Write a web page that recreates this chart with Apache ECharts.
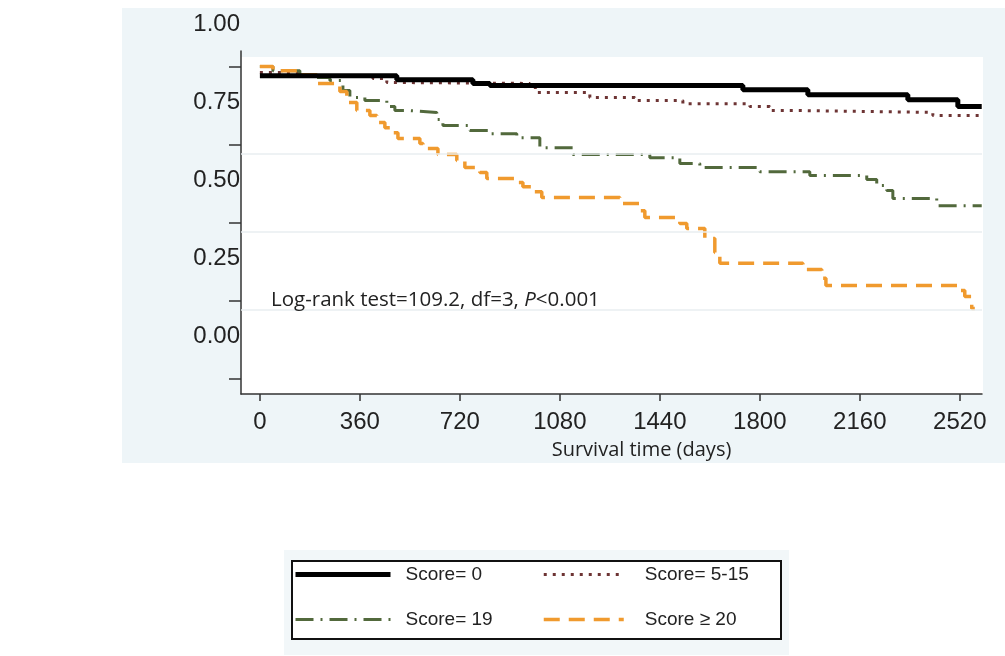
<!DOCTYPE html>
<html>
<head>
<meta charset="utf-8">
<script src="https://cdn.jsdelivr.net/npm/echarts@6/dist/echarts.min.js"></script>
<style>
html, body { margin: 0; padding: 0; background: #fff; }
#main { width: 1005px; height: 656px; }
</style>
</head>
<body>
<div id="main"></div>
<script>
// Kaplan-Meier steps: day where the step starts, survival from then on
var score0Days = [0, 493, 767, 828, 1739, 1973, 2333, 2513, 2599];
var score0Surv = [0.971, 0.958, 0.946, 0.939, 0.926, 0.910, 0.894, 0.872, 0.872];

var score515Days = [0, 144, 407, 457, 479, 972, 997, 1188, 1350, 1523, 1764, 1836, 1944, 2423, 2599];
var score515Surv = [0.981, 0.971, 0.962, 0.949, 0.946, 0.933, 0.917, 0.901, 0.891, 0.881, 0.872, 0.859, 0.853, 0.843, 0.843];

var score19Days = [0, 47, 144, 205, 252, 299, 324, 378, 457, 486, 540, 637, 659, 756, 828, 925, 1008, 1127, 1404, 1512, 1584, 1800, 1980, 2185, 2221, 2257, 2279, 2437, 2599];
var score19Surv = [1.0, 0.987, 0.974, 0.965, 0.955, 0.923, 0.901, 0.891, 0.872, 0.859, 0.853, 0.830, 0.811, 0.795, 0.785, 0.772, 0.740, 0.718, 0.708, 0.689, 0.676, 0.663, 0.651, 0.638, 0.619, 0.603, 0.577, 0.554, 0.554];

var score20Days = [0, 47, 144, 205, 288, 313, 349, 396, 421, 450, 475, 497, 576, 587, 641, 709, 738, 792, 817, 918, 947, 990, 1015, 1296, 1368, 1386, 1512, 1537, 1602, 1638, 1656, 1955, 2023, 2038, 2520, 2538, 2563, 2574];
var score20Surv = [1.0, 0.987, 0.974, 0.946, 0.920, 0.885, 0.859, 0.843, 0.821, 0.804, 0.788, 0.769, 0.753, 0.737, 0.718, 0.699, 0.676, 0.660, 0.641, 0.628, 0.615, 0.599, 0.580, 0.561, 0.538, 0.516, 0.497, 0.481, 0.449, 0.404, 0.369, 0.349, 0.321, 0.298, 0.282, 0.263, 0.224, 0.224];

var xTicks = [0, 360, 720, 1080, 1440, 1800, 2160, 2520];
var yTicks = [0, 0.25, 0.5, 0.75, 1];
var faintLines = [0.7216, 0.4715, 0.2213];

var seriesNames = ['Score= 0', 'Score= 5-15', 'Score= 19', 'Score \u2265 20'];

function zip(a, b) {
	var out = [];
	for (var i = 0; i < a.length; i++) out.push([a[i], b[i]]);
	return out;
}

var tickFont = "'Liberation Sans', Arial, sans-serif";
var textFont = "'Open Sans', sans-serif";

var chart = echarts.init(document.getElementById('main'));

var option = {
	animation: false,
	backgroundColor: '#fff',
	graphic: [{
		type: 'rect', z: -10, silent: true,
		shape: { x: 122, y: 8, width: 883, height: 455 },
		style: { fill: '#eef5f8' }
	}, {
		type: 'rect', z: -9, silent: true,
		shape: { x: 241, y: 57, width: 742, height: 337 },
		style: { fill: '#fff' }
	}, {
		type: 'rect', z: -10, silent: true,
		shape: { x: 284, y: 550, width: 505, height: 105 },
		style: { fill: '#f2f7f9' }
	}, {
		type: 'rect', z: 5, silent: true,
		shape: { x: 292, y: 561, width: 489, height: 78 },
		style: { fill: '#fff', stroke: '#111', lineWidth: 2 }
	}],
	title: {
		left: 266,
		top: 285,
		text: '{n|Log-rank test=109.2, df=3, }{i|P}{n|<0.001}',
		textStyle: {
			rich: {
				n: { fontFamily: textFont, fontSize: 20.5, fontWeight: 'normal', color: '#222' },
				i: { fontFamily: textFont, fontSize: 20.5, fontWeight: 'normal', fontStyle: 'italic', color: '#222' }
			}
		}
	},
	legend: [{
		left: 293,
		top: 565,
		orient: 'vertical',
		itemWidth: 95,
		itemHeight: 14,
		itemGap: 26,
		padding: 0,
		z: 6,
		data: [seriesNames[0], seriesNames[2]],
		lineStyle: { width: 'inherit' },
		itemStyle: { opacity: 0 },
		textStyle: { fontFamily: tickFont, fontSize: 19, color: '#222', padding: [0, 0, 0, 10] }
	}, {
		left: 542,
		top: 565,
		orient: 'vertical',
		itemWidth: 80,
		itemHeight: 14,
		itemGap: 26,
		padding: 0,
		z: 6,
		data: [seriesNames[1], seriesNames[3]],
		lineStyle: { width: 'inherit' },
		itemStyle: { opacity: 0 },
		textStyle: { fontFamily: tickFont, fontSize: 19, color: '#222', padding: [0, 0, 0, 16] }
	}],
	// grid 0 holds the curves; grid 1 is the same box lifted 42px and only carries the y labels,
	// which sit half a step above their ticks in the original figure
	grid: [{
		left: 241,
		top: 51,
		right: 23,
		bottom: 262,
		containLabel: false,
		outerBoundsMode: 'none'
	}, {
		left: 241,
		top: 9,
		right: 23,
		bottom: 304,
		containLabel: false,
		outerBoundsMode: 'none'
	}],
	xAxis: [{
		type: 'value',
		min: -68,
		max: 2600,
		name: 'Survival time (days)',
		nameLocation: 'middle',
		nameGap: 46,
		nameTextStyle: {
			fontFamily: textFont,
			fontSize: 20,
			color: '#222',
			padding: [0, 0, 0, 60]
		},
		axisLine: { onZero: false, lineStyle: { color: '#333', width: 1.5 } },
		axisTick: { customValues: xTicks, length: 7, lineStyle: { color: '#333', width: 1.5 } },
		axisLabel: {
			customValues: xTicks,
			margin: 16,
			fontFamily: tickFont,
			fontSize: 24,
			color: '#222',
			formatter: function (v) { return String(v); }
		},
		splitLine: { show: false }
	}, {
		gridIndex: 1,
		type: 'value',
		min: -68,
		max: 2600,
		show: false
	}],
	yAxis: [{
		type: 'value',
		min: -0.05,
		max: 1.05,
		axisLine: { show: true, onZero: false, lineStyle: { color: '#333', width: 1.5 } },
		axisTick: { show: true, customValues: yTicks, length: 12, lineStyle: { color: '#333', width: 1.5 } },
		axisLabel: { show: false },
		splitLine: { show: false }
	}, {
		gridIndex: 1,
		type: 'value',
		min: -0.05,
		max: 1.05,
		axisLine: { show: false },
		axisTick: { show: false },
		axisLabel: {
			customValues: yTicks,
			showMinLabel: true,
			showMaxLabel: true,
			margin: 1,
			fontFamily: tickFont,
			fontSize: 24,
			color: '#222',
			formatter: function (v) { return v.toFixed(2); }
		},
		splitLine: { show: false }
	}],
	series: [{
		name: seriesNames[0],
		type: 'line',
		step: 'end',
		symbol: 'none',
		z: 4,
		data: zip(score0Days, score0Surv),
		lineStyle: { color: '#000', width: 5, type: 'solid' },
		itemStyle: { color: '#000' },
		markLine: {
			silent: true,
			symbol: 'none',
			label: { show: false },
			lineStyle: { color: '#e9eef1', width: 1.5, type: 'solid' },
			data: faintLines.map(function (v) { return { yAxis: v }; })
		}
	}, {
		name: seriesNames[1],
		type: 'line',
		step: 'end',
		symbol: 'none',
		z: 3,
		data: zip(score515Days, score515Surv),
		lineStyle: { color: '#6d3434', width: 3, type: [3, 6] },
		itemStyle: { color: '#6d3434' }
	}, {
		name: seriesNames[2],
		type: 'line',
		step: 'end',
		symbol: 'none',
		z: 3,
		data: zip(score19Days, score19Surv),
		lineStyle: { color: '#52693c', width: 3, type: [18, 7, 2, 7] },
		itemStyle: { color: '#52693c' }
	}, {
		name: seriesNames[3],
		type: 'line',
		step: 'end',
		symbol: 'none',
		z: 3,
		data: zip(score20Days, score20Surv),
		lineStyle: { color: '#f09a2e', width: 3.5, type: [16, 9] },
		itemStyle: { color: '#f09a2e' }
	}]
};

chart.setOption(option);
</script>
</body>
</html>
